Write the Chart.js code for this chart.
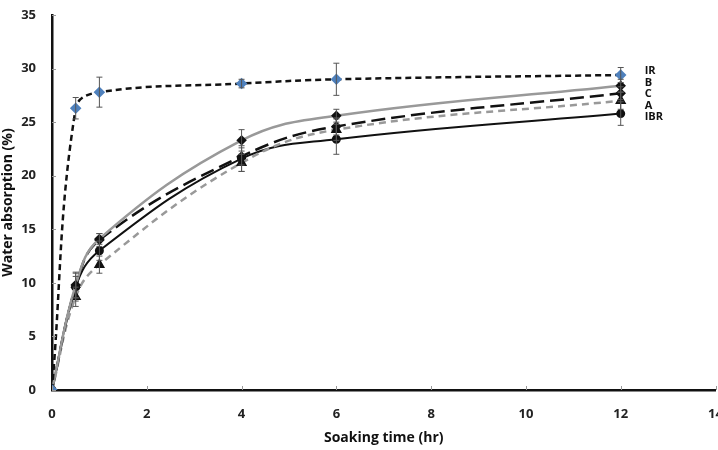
<!DOCTYPE html>
<html>
<head>
<meta charset="utf-8">
<script src="https://cdn.jsdelivr.net/npm/chart.js@4.4.1/dist/chart.umd.min.js"></script>
<style>
  html, body { margin: 0; padding: 0; background: #fff; overflow: hidden; }
  #wrap { width: 722px; height: 450px; position: relative; }
</style>
</head>
<body>
<div id="wrap"><canvas id="absorptionChart"></canvas></div>
<script>
// soaking time (hr)
const hours = [0, 0.5, 1, 4, 6, 12];

const irVals  = [0, 26.3, 27.8, 28.6, 29.0, 29.4];
const irErr   = [0, 1.0, 1.4, 0.4, 1.5, 0.7];
const bVals   = [0, 9.8, 14.1, 23.3, 25.6, 28.4];
const bErr    = [0, 1.2, 0.5, 1.0, 0.6, 0.6];
const cVals   = [0, 9.6, 14.0, 21.8, 24.6, 27.7];
const cErr    = [0, 1.0, 0.6, 0.8, 0.8, 0.6];
const aVals   = [0, 8.7, 11.7, 21.2, 24.3, 27.0];
const aErr    = [0, 0.9, 0.8, 0.8, 1.0, 0.8];
const ibrVals = [0, 9.6, 13.0, 21.6, 23.4, 25.8];
const ibrErr  = [0, 1.3, 0.9, 1.2, 1.4, 1.1];

const seriesNames = ['IR', 'B', 'C', 'A', 'IBR'];
const xTicks = [0, 2, 4, 6, 8, 10, 12, 14];
const yTicks = [0, 5, 10, 15, 20, 25, 30, 35];

const FONT = '"Open Sans", "Noto Sans", sans-serif';

function pts(vals) {
    return hours.map((h, i) => ({ x: h, y: vals[i] }));
}

const errorBars = {
    id: 'errorBars',
    afterDatasetsDraw(chart) {
        const ctx = chart.ctx;
        const xs = chart.scales.x, ys = chart.scales.y;
        ctx.save();
        ctx.strokeStyle = '#555';
        ctx.lineWidth = 1;
        chart.data.datasets.forEach(ds => {
            ds.err.forEach((e, i) => {
                if (!e) return;
                const px = xs.getPixelForValue(hours[i]);
                const top = ys.getPixelForValue(ds.data[i].y + e);
                const bot = ys.getPixelForValue(ds.data[i].y - e);
                ctx.beginPath();
                ctx.moveTo(px, top); ctx.lineTo(px, bot);
                ctx.moveTo(px - 3, top); ctx.lineTo(px + 3, top);
                ctx.moveTo(px - 3, bot); ctx.lineTo(px + 3, bot);
                ctx.stroke();
            });
        });
        ctx.restore();
    }
};

const innerTicks = {
    id: 'innerTicks',
    afterDraw(chart) {
        const ctx = chart.ctx;
        const xs = chart.scales.x, ys = chart.scales.y;
        const a = chart.chartArea;
        ctx.save();
        ctx.strokeStyle = '#999';
        ctx.lineWidth = 1;
        xTicks.forEach(t => {
            const px = Math.round(xs.getPixelForValue(t)) + 0.5;
            ctx.beginPath(); ctx.moveTo(px, a.bottom); ctx.lineTo(px, a.bottom - 4); ctx.stroke();
        });
        yTicks.forEach(t => {
            const py = Math.round(ys.getPixelForValue(t)) + 0.5;
            ctx.beginPath(); ctx.moveTo(a.left, py); ctx.lineTo(a.left + 4, py); ctx.stroke();
        });
        // series labels beside the 12 h points
        const lx = xs.getPixelForValue(12) + 24;
        const ly = ys.getPixelForValue(irVals[irVals.length - 1]) - 4;
        ctx.fillStyle = '#111';
        ctx.font = 'bold 11px ' + FONT;
        ctx.textAlign = 'left';
        ctx.textBaseline = 'middle';
        seriesNames.forEach((n, i) => ctx.fillText(n, lx, ly + i * 11.5));
        ctx.restore();
    }
};

const canvas = document.getElementById('absorptionChart');
new Chart(canvas.getContext('2d'), {
    type: 'line',
    data: {
        datasets: [
            {
                label: 'IR', data: pts(irVals), err: irErr,
                borderColor: '#111', borderWidth: 2.5, borderDash: [6, 4],
                pointStyle: 'rectRot', pointRadius: 4,
                pointBackgroundColor: '#4f81bd', pointBorderColor: '#4f81bd',
                tension: 0.4
            },
            {
                label: 'B', data: pts(bVals), err: bErr,
                borderColor: '#999', borderWidth: 2.5,
                pointStyle: 'rectRot', pointRadius: 3.5,
                pointBackgroundColor: '#111', pointBorderColor: '#111',
                tension: 0.4
            },
            {
                label: 'C', data: pts(cVals), err: cErr,
                borderColor: '#111', borderWidth: 2.5, borderDash: [14, 6],
                pointStyle: 'rectRot', pointRadius: 3.5,
                pointBackgroundColor: '#111', pointBorderColor: '#111',
                tension: 0.4
            },
            {
                label: 'A', data: pts(aVals), err: aErr,
                borderColor: '#999', borderWidth: 2.5, borderDash: [7, 5],
                pointStyle: 'triangle', pointRadius: 4,
                pointBackgroundColor: '#111', pointBorderColor: '#111',
                tension: 0.4
            },
            {
                label: 'IBR', data: pts(ibrVals), err: ibrErr,
                borderColor: '#111', borderWidth: 2,
                pointStyle: 'circle', pointRadius: 3.5,
                pointBackgroundColor: '#111', pointBorderColor: '#111',
                tension: 0.4
            }
        ]
    },
    options: {
        responsive: true,
        maintainAspectRatio: false,
        animation: false,
        layout: { padding: { top: 15, right: 0, left: 0, bottom: 0 } },
        plugins: {
            legend: { display: false },
            tooltip: { enabled: false }
        },
        scales: {
            x: {
                type: 'linear', min: 0, max: 14,
                afterFit(scale) { scale.height = 60; scale.paddingLeft = 0; scale.paddingRight = 0; },
                afterBuildTicks(scale) { scale.ticks = xTicks.map(v => ({ value: v })); },
                grid: { drawOnChartArea: false, drawTicks: false },
                border: { color: '#111', width: 2.5 },
                ticks: { padding: 16, color: '#222', font: { family: FONT, size: 13, weight: 'bold' }, maxRotation: 0 },
                title: { display: true, text: 'Soaking time (hr)', color: '#111', padding: { top: 2 }, font: { family: FONT, size: 14, weight: 'bold' } }
            },
            y: {
                min: 0, max: 35,
                afterFit(scale) { scale.width = 52; scale.paddingTop = 0; scale.paddingBottom = 0; },
                afterBuildTicks(scale) { scale.ticks = yTicks.map(v => ({ value: v })); },
                grid: { drawOnChartArea: false, drawTicks: false },
                border: { color: '#111', width: 2.5 },
                ticks: { padding: 16, color: '#222', font: { family: FONT, size: 13, weight: 'bold' } },
                title: { display: true, text: 'Water absorption (%)', color: '#111', padding: 0, font: { family: FONT, size: 14, weight: 'bold' } }
            }
        }
    },
    plugins: [errorBars, innerTicks]
});
</script>
</body>
</html>
